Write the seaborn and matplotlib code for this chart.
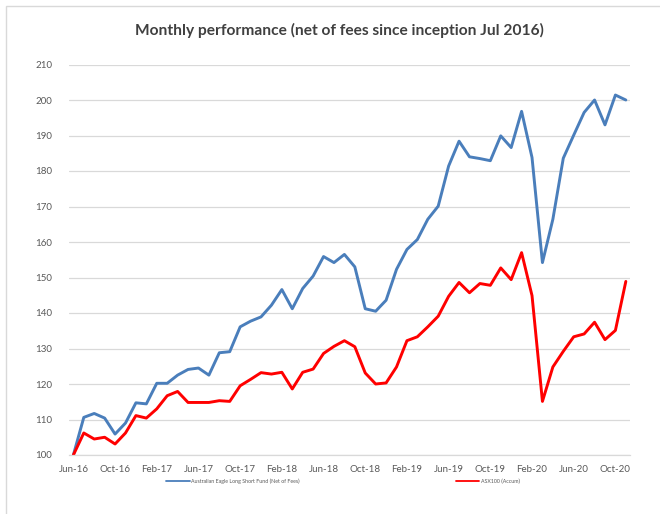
import numpy as np
import pandas as pd
import matplotlib
matplotlib.use("Agg")
import matplotlib.pyplot as plt
import seaborn as sns
from matplotlib.patches import Rectangle
from matplotlib.lines import Line2D

months = list(pd.date_range("2016-06-01", periods=54, freq="MS").strftime("%b-%y"))

fund = [100.0, 110.6, 111.7, 110.4, 105.9, 109.0, 114.7, 114.4, 120.2, 120.2,
        122.5, 124.1, 124.5, 122.5, 128.8, 129.1, 136.1, 137.7, 138.9, 142.2,
        146.6, 141.2, 146.9, 150.4, 155.9, 154.2, 156.5, 153.0, 141.2, 140.5,
        143.6, 152.3, 157.9, 160.7, 166.4, 170.1, 181.4, 188.4, 184.0, 183.5,
        182.9, 189.9, 186.6, 196.8, 183.8, 154.2, 166.4, 183.6, 190.1, 196.5,
        200.0, 193.0, 201.4, 200.0]

asx = [100.0, 106.2, 104.5, 105.0, 103.1, 106.2, 111.1, 110.4, 113.0, 116.7,
       117.9, 114.8, 114.8, 114.8, 115.3, 115.1, 119.5, 121.3, 123.2, 122.8,
       123.3, 118.6, 123.3, 124.2, 128.6, 130.6, 132.2, 130.5, 123.1, 120.0,
       120.3, 124.8, 132.2, 133.3, 136.1, 139.1, 144.7, 148.6, 145.7, 148.3,
       147.8, 152.7, 149.4, 157.0, 144.9, 115.1, 124.8, 129.2, 133.3, 134.1,
       137.4, 132.5, 135.1, 148.9]

series_names = ["Australian Eagle Long Short Fund (Net of Fees)", "ASX100 (Accum)"]
series_colors = ["#4A7EBB", "#FF0000"]
y_ticks = list(range(100, 211, 10))

sns.set_theme(style="white")
plt.rcParams["font.family"] = ["Lato", "DejaVu Sans"]

df = pd.DataFrame({
    "idx": list(range(len(months))) * 2,
    "value": fund + asx,
    "series": [series_names[0]] * len(fund) + [series_names[1]] * len(asx),
})

fig = plt.figure(figsize=(6.6, 5.14), dpi=100)
fig.patch.set_facecolor("white")
ax = fig.add_axes([69 / 660, 1 - 455 / 514, (630 - 69) / 660, (455 - 64.5) / 514])

sns.lineplot(data=df, x="idx", y="value", hue="series", palette=series_colors,
             linewidth=2.1, ax=ax, legend=False, sort=False)

ax.set_ylim(100, 210)
ax.set_xlim(-0.42, 53.4)
ax.set_yticks(y_ticks)
ax.set_yticklabels([str(v) for v in y_ticks])
tick_pos = list(range(0, len(months), 4))
ax.set_xticks(tick_pos)
ax.set_xticklabels([months[i] for i in tick_pos])
ax.grid(axis="y", color="#D9D9D9", linewidth=0.9)
ax.grid(axis="x", visible=False)
for s in ["top", "right", "left"]:
    ax.spines[s].set_visible(False)
ax.spines["bottom"].set_color("#D9D9D9")
ax.spines["bottom"].set_linewidth(0.9)
ax.set_axisbelow(True)
ax.tick_params(axis="both", length=0, labelsize=7, colors="#595959")
ax.tick_params(axis="y", pad=12)
ax.tick_params(axis="x", pad=7)
ax.set_xlabel("")
ax.set_ylabel("")

fig.text(339 / 660, 1 - 30 / 514, "Monthly performance (net of fees since inception Jul 2016)",
         ha="center", va="center", fontsize=11.2, fontweight="bold", color="#404040")

# chart frame (left/top visible)
fig.patches.append(Rectangle((6 / 660, -0.1), 1.2, 1 - 6 / 514 + 0.1, transform=fig.transFigure,
                             fill=False, edgecolor="#D9D9D9", linewidth=1.0))

handles = [Line2D([], [], color=c, linewidth=1.3) for c in series_colors]
fig.legend(handles, series_names, loc="center", bbox_to_anchor=(343 / 660, 1 - 481 / 514),
           ncol=2, frameon=False, fontsize=3.8, handlelength=4.5, handletextpad=0.25,
           columnspacing=29.5, labelcolor="#595959")

fig.savefig("out.png", dpi=100, facecolor="white")
